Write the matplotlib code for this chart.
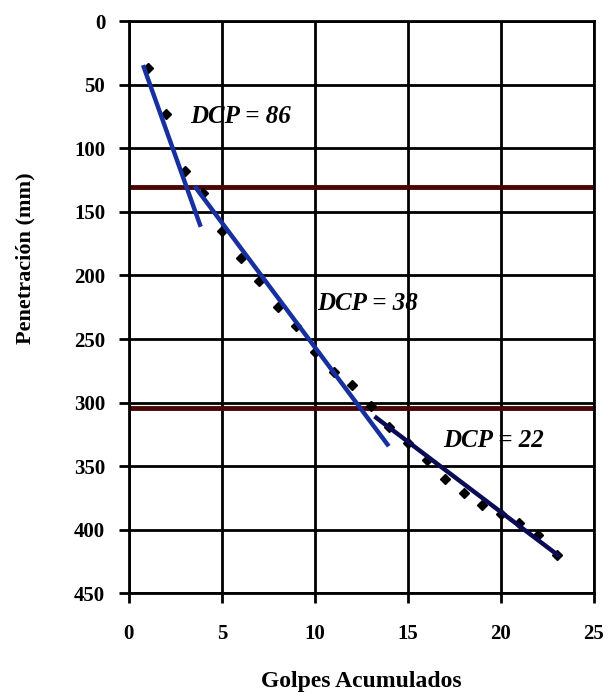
import matplotlib.pyplot as plt

# blows vs penetration
golpes = [1, 2, 3, 4, 5, 6, 7, 8, 9, 10, 11, 12, 13, 14, 15, 16, 17, 18, 19, 20, 21, 22, 23]
penetracion = [37, 73, 118, 135, 165, 186, 204, 225, 240, 260, 276, 286, 303, 319,
               332, 345, 360, 371, 381, 388, 395, 404, 420]

# fitted segments (x ends, y ends)
fit1_x = [0.8, 3.82]
fit1_y = [36, 160]
fit2_x = [3.6, 13.9]
fit2_y = [131, 333]
fit3_x = [13.3, 23.05]
fit3_y = [312, 420]

capas = [130, 304]

etiquetas = ['DCP = 86', 'DCP = 38', 'DCP = 22']
etiq_x = [3.3, 10.1, 16.9]
etiq_y = [75, 222, 330]

plt.rcParams['font.family'] = ['Liberation Serif', 'DejaVu Serif']

fig = plt.figure(figsize=(6.11, 6.92), dpi=100)
ax = fig.add_axes([0.211, 0.143, 0.761, 0.826])

ax.set_xlim(0, 25)
ax.set_ylim(450, 0)
ax.set_xticks(range(0, 26, 5))
ax.set_yticks(range(0, 451, 50))
ax.grid(True, color='black', linewidth=2)
ax.set_axisbelow(True)

for c in capas:
    ax.axhline(c, color='#4a0505', linewidth=3.5, zorder=2)

ax.plot(golpes, penetracion, linestyle='none', marker='D', markersize=5.5,
        color='black', zorder=3)
ax.plot(fit1_x, fit1_y, color='#1730a0', linewidth=3.2, zorder=4)
ax.plot(fit2_x, fit2_y, color='#1730a0', linewidth=3.2, zorder=4)
ax.plot(fit3_x, fit3_y, color='#0a0a55', linewidth=3.2, zorder=4)

for t, x, y in zip(etiquetas, etiq_x, etiq_y):
    ax.text(x, y, t, fontsize=18, fontweight='bold', fontstyle='italic',
            va='center', ha='left', zorder=5)

for s in ax.spines.values():
    s.set_linewidth(2)
ax.tick_params(axis='x', direction='out', length=7, width=2, labelsize=15, pad=15)
ax.tick_params(axis='y', direction='out', length=7, width=2, labelsize=15, pad=10)
for lab in ax.get_xticklabels() + ax.get_yticklabels():
    lab.set_fontweight('bold')

ax.set_xlabel('Golpes Acumulados', fontsize=17, fontweight='bold', labelpad=20)
ax.set_ylabel('Penetración (mm)', fontsize=16, fontweight='bold', labelpad=28)
ax.yaxis.label.set_y(0.586)

plt.savefig('out.png', dpi=100)
